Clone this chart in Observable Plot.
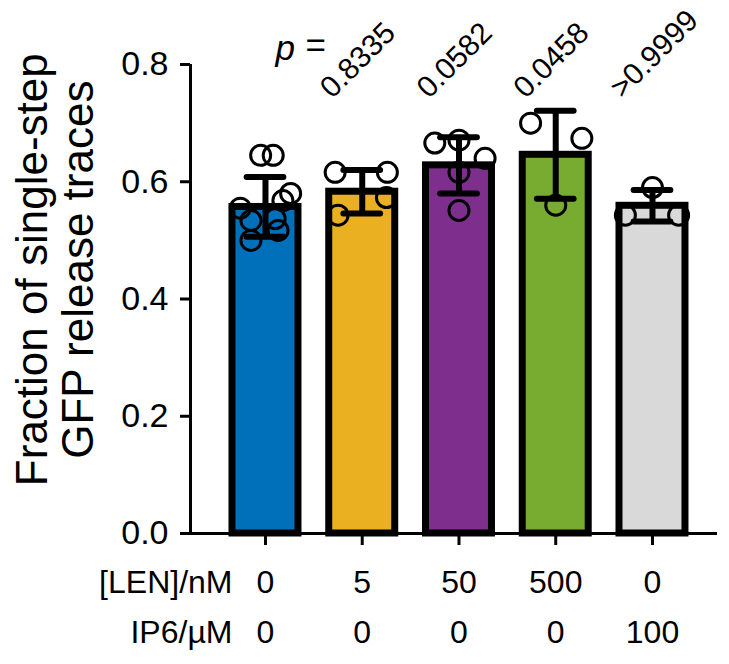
<!DOCTYPE html>
<html><head><meta charset="utf-8">
<script src="https://cdn.jsdelivr.net/npm/d3@7"></script>
<script src="https://cdn.jsdelivr.net/npm/@observablehq/plot@0.6"></script>
<style>body{margin:0;background:#fff;font-family:"Liberation Sans",Arial,sans-serif}</style>
</head><body><div id="chart"></div>
<script>
// ---- data ----
const conditions = ["LEN 0 / IP6 0", "LEN 5 / IP6 0", "LEN 50 / IP6 0", "LEN 500 / IP6 0", "LEN 0 / IP6 100"];
const lenLabels = ["0", "5", "50", "500", "0"];
const ip6Labels = ["0", "0", "0", "0", "100"];
const rowLabels = ["[LEN]/nM", "IP6/µM"];
const means = [0.557, 0.583, 0.628, 0.646, 0.559];
const sds = [0.051, 0.037, 0.048, 0.075, 0.027];
const pValues = ["", "0.8335", "0.0582", "0.0458", ">0.9999"];
const colors = ["#0070BA", "#EBB021", "#7E2F8E", "#77AC30", "#D9D9D9"];
const yTicks = [0, 0.2, 0.4, 0.6, 0.8];
const yTitle = "Fraction of single-step\nGFP release traces";

// individual replicate values and their horizontal scatter (fraction of category step)
const len0Values  = [0.645, 0.645, 0.580, 0.568, 0.555, 0.534, 0.537, 0.500, 0.517];
const len0Jitter  = [-0.05, 0.08, 0.26, 0.18, -0.26, -0.15, 0.10, -0.15, 0.13];
const len5Values  = [0.616, 0.616, 0.573, 0.543];
const len5Jitter  = [-0.28, 0.26, 0.25, -0.25];
const len50Values = [0.666, 0.671, 0.640, 0.616, 0.551];
const len50Jitter = [-0.25, 0.0, 0.27, 0.0, 0.0];
const len500Values = [0.700, 0.674, 0.560];
const len500Jitter = [-0.26, 0.27, 0.0];
const ip6Values   = [0.590, 0.543, 0.543];
const ip6Jitter   = [0.0, -0.28, 0.27];

const groupValues = [len0Values, len5Values, len50Values, len500Values, ip6Values];
const groupJitter = [len0Jitter, len5Jitter, len50Jitter, len500Jitter, ip6Jitter];

const bars = conditions.map((c, i) => ({i, c, mean: means[i], sd: sds[i], color: colors[i],
  len: lenLabels[i], ip6: ip6Labels[i], p: pValues[i]}));
const pts = groupValues.flatMap((vals, i) => vals.map((v, k) => ({x: i + groupJitter[i][k], y: v})));

const half = 0.341;     // bar half-width in category units
const xDomain = [-0.775, 4.672];
const font = "Liberation Sans, Arial, sans-serif";

const chart = Plot.plot({
  width: 729,
  height: 664,
  marginLeft: 190,
  marginRight: 12,
  marginTop: 64,
  marginBottom: 131,
  style: {fontFamily: font, background: "#fff", color: "#000"},
  x: {type: "linear", domain: xDomain, axis: null},
  y: {domain: [0, 0.8], axis: null},
  marks: [
    Plot.rectY(bars, {x1: d => d.i - half, x2: d => d.i + half, y1: 0, y2: "mean",
      fill: "color", stroke: "#000", strokeWidth: 7}),
    Plot.dot(pts, {x: "x", y: "y", r: 10, stroke: "#000", strokeWidth: 3, fill: "none"}),
    Plot.ruleX(bars, {x: "i", y1: d => d.mean - d.sd, y2: d => d.mean + d.sd, stroke: "#000", strokeWidth: 6}),
    Plot.ruleY(bars, {x1: d => d.i - 0.19, x2: d => d.i + 0.19, y: d => d.mean + d.sd, stroke: "#000", strokeWidth: 6, strokeLinecap: "round"}),
    Plot.ruleY(bars, {x1: d => d.i - 0.19, x2: d => d.i + 0.19, y: d => d.mean - d.sd, stroke: "#000", strokeWidth: 6, strokeLinecap: "round"}),
    Plot.ruleX([xDomain[0]], {y1: 0, y2: 0.8, stroke: "#000", strokeWidth: 3}),
    Plot.ruleY([0], {stroke: "#000", strokeWidth: 3}),
    Plot.axisY({ticks: yTicks, tickSize: 10, tickPadding: 12, tickFormat: d3.format(".1f"),
      fontSize: 34, strokeWidth: 3, stroke: "#000", fill: "#000", anchor: "left"}),
    Plot.axisX({ticks: [0, 1, 2, 3, 4], tickSize: 12, tickFormat: () => "", strokeWidth: 3, stroke: "#000", anchor: "bottom"}),
    Plot.text(bars, {x: "i", y: 0, text: "len", dy: 49, fontSize: 32, fill: "#000"}),
    Plot.text(bars, {x: "i", y: 0, text: "ip6", dy: 99, fontSize: 32, fill: "#000"}),
    Plot.text([rowLabels[0]], {x: 0, y: 0, dx: -33, dy: 49, textAnchor: "end", fontSize: 32, fill: "#000"}),
    Plot.text([rowLabels[1]], {x: 0, y: 0, dx: -33, dy: 99, textAnchor: "end", fontSize: 32, fill: "#000"}),
    Plot.text(bars.filter(d => d.p), {x: "i", y: 0.8, text: "p", rotate: -45, textAnchor: "start",
      lineAnchor: "bottom", dx: -30, dy: 35, fontSize: 30, fill: "#000"}),
    Plot.text(["p"], {x: 0, y: 0.8, dx: 10, dy: -16, textAnchor: "start", fontSize: 35, fontStyle: "italic", fill: "#000"}),
    Plot.text(["="], {x: 0, y: 0.8, dx: 40, dy: -19, textAnchor: "start", fontSize: 35, fill: "#000"}),
    Plot.text([yTitle], {x: xDomain[0], y: 0.45, dx: -135, rotate: -90, fontSize: 44, lineHeight: 1.03,
      lineAnchor: "middle", fill: "#000"})
  ]
});
document.getElementById("chart").appendChild(chart);
</script>
</body></html>
